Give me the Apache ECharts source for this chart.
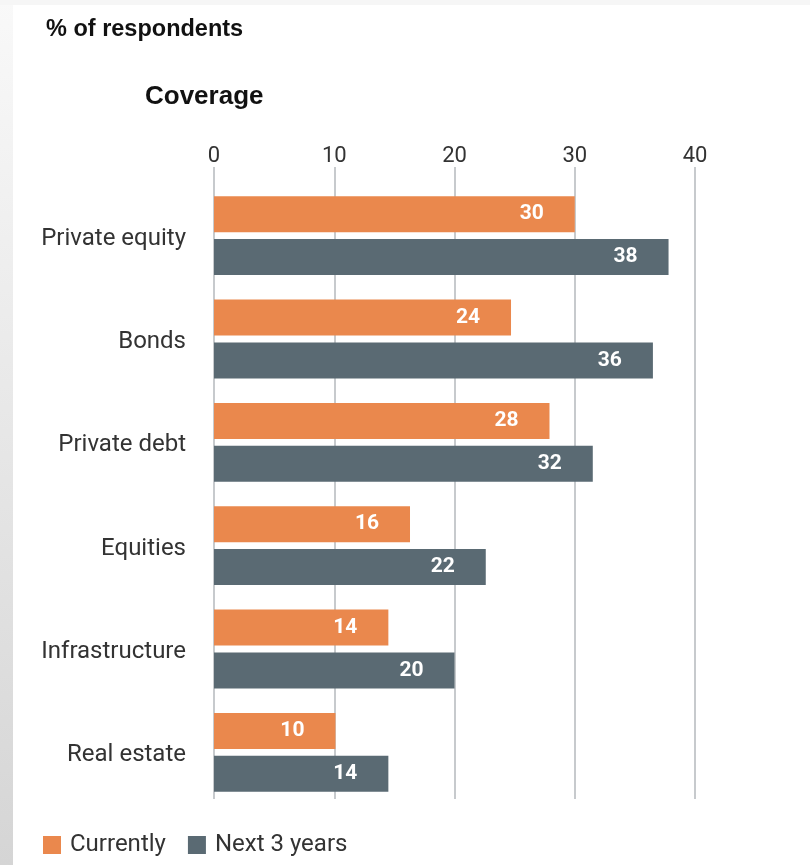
<!DOCTYPE html>
<html>
<head>
<meta charset="utf-8">
<style>html,body{margin:0;padding:0;background:#fff;}#chart{width:810px;height:865px;}</style>
<script src="https://cdn.jsdelivr.net/npm/echarts@6/dist/echarts.min.js"></script>
</head>
<body>
<div id="chart"></div>
<script>
const categories = ["Private equity", "Bonds", "Private debt", "Equities", "Infrastructure", "Real estate"];
const seriesNames = ["Currently", "Next 3 years"];
const currentValues = [30, 24.7, 27.9, 16.3, 14.5, 10.1];
const currentLabels = [30, 24, 28, 16, 14, 10];
const nextValues = [37.8, 36.5, 31.5, 22.6, 20, 14.5];
const nextLabels = [38, 36, 32, 22, 20, 14];
const tickValues = [0, 10, 20, 30, 40];

const chart = echarts.init(document.getElementById('chart'));
const font = 'Roboto, "Liberation Sans", sans-serif';
function labelCfg(arr) {
  return {
    show: true, position: 'insideRight', distance: 31,
    color: '#fff', fontWeight: 'bold', fontSize: 21, fontFamily: font,
    formatter: p => String(arr[p.dataIndex])
  };
}
chart.setOption({
  backgroundColor: '#ffffff',
  animation: false,
  graphic: [
    { type: 'rect', left: 0, top: 0, shape: { width: 13, height: 865 }, silent: true,
      style: { fill: new echarts.graphic.LinearGradient(0, 0, 0, 1, [{ offset: 0, color: '#f9f9f9' }, { offset: 1, color: '#d5d5d5' }]) } },
    { type: 'rect', left: 0, top: 0, shape: { width: 810, height: 5 }, silent: true, style: { fill: '#f6f6f6' } },
    { type: 'text', left: 46, top: 18, style: { text: '% of respondents', font: 'bold 23.5px "Liberation Sans", Arial, sans-serif', fill: '#111' } },
    { type: 'text', left: 145, top: 84, style: { text: 'Coverage', font: 'bold 26px "Liberation Sans", Arial, sans-serif', fill: '#111' } }
  ],
  legend: {
    data: seriesNames, left: 43, top: 833, padding: 0, icon: 'rect', itemWidth: 18, itemHeight: 18, itemGap: 22,
    textStyle: { fontSize: 24, color: '#333', fontFamily: font, padding: [0, 0, 0, 4] }
  },
  grid: [
    { left: 214, right: 115, top: 184, height: 620, containLabel: false },
    { left: 214, right: 115, top: 167, height: 632, containLabel: false }
  ],
  xAxis: [
    { gridIndex: 0, type: 'value', min: 0, max: 40, interval: 10, show: false },
    { gridIndex: 1, type: 'value', min: 0, max: 40, interval: 10, position: 'top',
      axisLine: { show: false }, axisTick: { show: false },
      axisLabel: { fontSize: 22, color: '#333', fontFamily: font, margin: 0,
        formatter: v => tickValues.indexOf(v) >= 0 ? String(v) : '' },
      splitLine: { show: true, lineStyle: { color: '#b4b9bd', width: 1.5 } } }
  ],
  yAxis: [
    { gridIndex: 0, type: 'category', data: categories, inverse: true,
      axisLine: { show: false }, axisTick: { show: false },
      axisLabel: { margin: 28, formatter: v => '{a|' + v + '}',
        rich: { a: { fontSize: 24, color: '#333', fontFamily: font, padding: [6, 0, 0, 0] } } } },
    { gridIndex: 1, type: 'value', show: false }
  ],
  series: [
    { name: seriesNames[0], type: 'bar', xAxisIndex: 0, yAxisIndex: 0, data: currentValues,
      barWidth: 36, barGap: '19%', itemStyle: { color: '#EA884D' }, label: labelCfg(currentLabels) },
    { name: seriesNames[1], type: 'bar', xAxisIndex: 0, yAxisIndex: 0, data: nextValues,
      barWidth: 36, barGap: '19%', itemStyle: { color: '#5A6A73' }, label: labelCfg(nextLabels) }
  ]
});
</script>
</body>
</html>
